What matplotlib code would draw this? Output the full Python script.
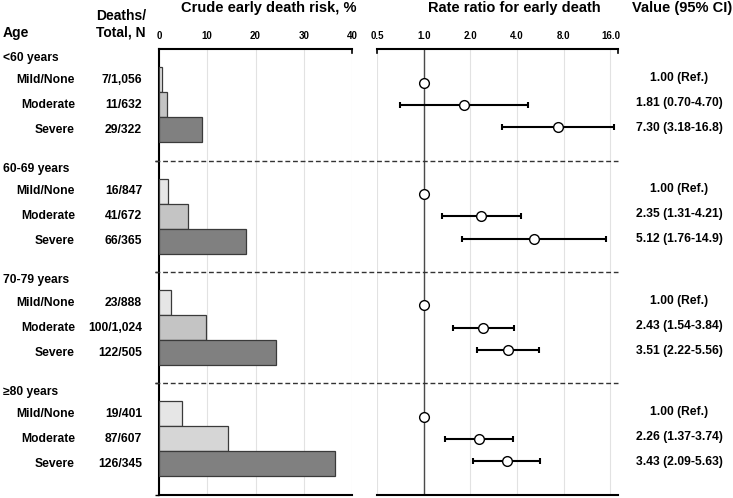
import matplotlib
matplotlib.use('Agg')
import matplotlib.pyplot as plt
import matplotlib.transforms as mtransforms
from matplotlib.lines import Line2D
import numpy as np

plt.rcParams['font.family'] = ['Liberation Sans', 'DejaVu Sans']
plt.rcParams['font.weight'] = 'bold'

# data
age_groups = ['<60 years', '60-69 years', '70-79 years', '≥80 years']
severity = ['Mild/None', 'Moderate', 'Severe']
deaths = [[7, 11, 29], [16, 41, 66], [23, 100, 122], [19, 87, 126]]
totals = [[1056, 632, 322], [847, 672, 365], [888, 1024, 505], [401, 607, 345]]
rate_ratio = [[1.00, 1.81, 7.30], [1.00, 2.35, 5.12], [1.00, 2.43, 3.51], [1.00, 2.26, 3.43]]
ci_low = [[np.nan, 0.70, 3.18], [np.nan, 1.31, 1.76], [np.nan, 1.54, 2.22], [np.nan, 1.37, 2.09]]
ci_high = [[np.nan, 4.70, 16.8], [np.nan, 4.21, 14.9], [np.nan, 3.84, 5.56], [np.nan, 3.74, 5.63]]
value_labels = [
    ['1.00 (Ref.)', '1.81 (0.70-4.70)', '7.30 (3.18-16.8)'],
    ['1.00 (Ref.)', '2.35 (1.31-4.21)', '5.12 (1.76-14.9)'],
    ['1.00 (Ref.)', '2.43 (1.54-3.84)', '3.51 (2.22-5.56)'],
    ['1.00 (Ref.)', '2.26 (1.37-3.74)', '3.43 (2.09-5.63)'],
]
bar_colors = [
    ['#e6e6e6', '#c4c4c4', '#808080'],
    ['#e6e6e6', '#c4c4c4', '#808080'],
    ['#e6e6e6', '#c4c4c4', '#808080'],
    ['#e6e6e6', '#d6d6d6', '#808080'],
]
risk_ticks = [0, 10, 20, 30, 40]
rr_ticks = [0.5, 1, 2, 4, 8, 16]
rr_ticklabels = ['0.5', '1.0', '2.0', '4.0', '8.0', '16.0']

W, H = 733, 498
G = 4.452  # height of one age block, in bar heights

fig = plt.figure(figsize=(W / 100, H / 100), dpi=100)
bottom = 1 - 494.6 / H
height = 445.2 / H
ax1 = fig.add_axes([159 / W, bottom, (352 - 159) / W, height])
ax2 = fig.add_axes([377 / W, bottom, (618 - 377) / W, height])

risk = np.array(deaths) / np.array(totals) * 100

# left panel: crude risk bars
for g in range(len(age_groups)):
    ys = [g * G + 1.22 + r for r in range(3)]
    ax1.barh(ys, risk[g], height=1.0, color=bar_colors[g],
             edgecolor='#3a3a3a', linewidth=0.9, zorder=3)

ax1.set_xlim(0, 40)
ax1.set_ylim(4 * G, 0)
ax1.xaxis.tick_top()
ax1.set_xticks(risk_ticks)
ax1.tick_params(axis='x', length=0, pad=6, labelsize=7)
ax1.set_yticks([g * G for g in range(1, 5)])
ax1.set_yticklabels([])
ax1.tick_params(axis='y', length=3, width=1, direction='out')
ax1.grid(axis='x', color='#e2e2e2', linewidth=0.8, zorder=0)
ax1.set_axisbelow(True)
ax1.spines['right'].set_visible(False)
for s in ['top', 'left', 'bottom']:
    ax1.spines[s].set_linewidth(1.5)

# right panel: rate ratios
ax2.set_xscale('log', base=2)
ax2.set_xlim(0.5, 17.9)
ax2.set_ylim(4 * G, 0)
ax2.xaxis.tick_top()
ax2.set_xticks(rr_ticks)
ax2.set_xticklabels(rr_ticklabels)
ax2.minorticks_off()
ax2.tick_params(axis='x', length=0, pad=6, labelsize=7)
ax2.set_yticks([])
ax2.grid(axis='x', color='#e2e2e2', linewidth=0.8, zorder=0)
ax2.set_axisbelow(True)
ax2.axvline(1, color='#4a4a4a', linewidth=1, zorder=2)
for s in ['left', 'right']:
    ax2.spines[s].set_visible(False)
for s in ['top', 'bottom']:
    ax2.spines[s].set_linewidth(1.5)

# small end caps on the top axis lines
ax1.plot([1, 1], [1, 0.992], transform=ax1.transAxes, color='black',
         linewidth=1.2, clip_on=False)
for xe in [0, 1]:
    ax2.plot([xe, xe], [1, 0.992], transform=ax2.transAxes, color='black',
             linewidth=1.2, clip_on=False)

for g in range(len(age_groups)):
    rr = np.array(rate_ratio[g])
    lo = np.array(ci_low[g])
    hi = np.array(ci_high[g])
    ys = np.array([g * G + G / 2 + (r - 1) * 0.89 for r in range(3)])
    has_ci = ~np.isnan(lo)
    ax2.errorbar(rr[has_ci], ys[has_ci],
                 xerr=[rr[has_ci] - lo[has_ci], hi[has_ci] - rr[has_ci]],
                 fmt='none', ecolor='black', elinewidth=1.5,
                 capsize=2.5, capthick=1.5, zorder=3)
    ax2.plot(rr, ys, 'o', markersize=7, markerfacecolor='white',
             markeredgecolor='black', markeredgewidth=1, zorder=4)

# dashed separators across both panels
trans = mtransforms.blended_transform_factory(fig.transFigure, ax1.transData)
for g in range(1, len(age_groups)):
    fig.add_artist(Line2D([155 / W, 618 / W], [g * G, g * G], transform=trans,
                          linestyle=(0, (3.5, 2)), color='#333333', linewidth=1))

# row text
fs = 8.7
for g, grp in enumerate(age_groups):
    ax1.text(3 / W, g * G + 0.33, grp, transform=trans, ha='left',
             va='center', fontsize=fs)
    for r, sev in enumerate(severity):
        y = g * G + 1.22 + r
        ax1.text(75 / W, y, sev, transform=trans, ha='right', va='center', fontsize=fs)
        ax1.text(142 / W, y, f'{deaths[g][r]}/{totals[g][r]:,}', transform=trans,
                 ha='right', va='center', fontsize=fs)
        ax1.text(679 / W, y - 0.08, value_labels[g][r], transform=trans,
                 ha='center', va='center', fontsize=fs)

# headers
fig.text(3 / W, 1 - 33 / H, 'Age', ha='left', va='center', fontsize=10)
fig.text(121 / W, 1 - 24 / H, 'Deaths/\nTotal, N', ha='center', va='center',
         fontsize=10, linespacing=1.25)
fig.text(269 / W, 1 - 8 / H, 'Crude early death risk, %', ha='center',
         va='center', fontsize=10.5)
fig.text(514 / W, 1 - 8 / H, 'Rate ratio for early death', ha='center',
         va='center', fontsize=10.5)
fig.text(682 / W, 1 - 8 / H, 'Value (95% CI)', ha='center', va='center',
         fontsize=10.5)

fig.savefig('out.png', dpi=100)
